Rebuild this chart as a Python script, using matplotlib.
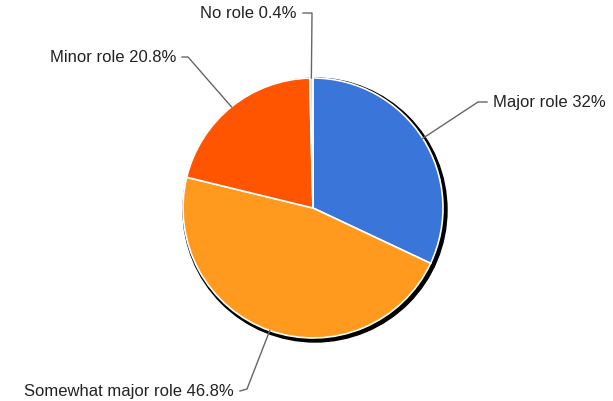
import matplotlib.pyplot as plt
from matplotlib.patches import Circle
import numpy as np

plt.rcParams['font.family'] = ['Liberation Sans', 'DejaVu Sans']

labels = ['Major role', 'Somewhat major role', 'Minor role', 'No role']
values = [32, 46.8, 20.8, 0.4]
value_text = ['32%', '46.8%', '20.8%', '0.4%']
colors = ['#3a76d9', '#ff9a1f', '#ff5500', '#c9daf8']

W, H = 613, 402
fig = plt.figure(figsize=(W / 100, H / 100), dpi=100)
ax = fig.add_axes([0, 0, 1, 1])

cx, cy, r = 313, 209, 130

# shadow ring
ax.add_patch(Circle((cx + 2, cy + 2), r + 2, color='black', zorder=1))

# y axis is inverted below, so counterclock in data = clockwise on screen
wedges, _ = ax.pie(values, colors=colors, startangle=-90, counterclock=True,
                   center=(cx, cy), radius=r, frame=True,
                   wedgeprops=dict(edgecolor='white', linewidth=1.2))
for w in wedges:
    w.set_zorder(2)
ax.set_xlim(0, W)
ax.set_ylim(H, 0)
ax.set_aspect('equal')
ax.axis('off')

# label layout (elbow point, label anchor)
layout = {
    'Major role': ((478, 103), (487, 103), 'left'),
    'Somewhat major role': ((247, 390), (240, 392), 'right'),
    'Minor role': ((188, 58), (182, 58), 'right'),
    'No role': ((312, 14), (303, 14), 'right'),
}

cum = 0
for lab, v, vt in zip(labels, values, value_text):
    mid = cum + v / 2
    cum += v
    ang = np.deg2rad(90 - mid / 100 * 360)
    ex = cx + r * np.cos(ang)
    ey = cy - r * np.sin(ang)
    (bx, by), (tx, ty), ha = layout[lab]
    ax.plot([ex, bx, tx], [ey, by, ty], color='#666666', lw=1, zorder=3)
    off = 6 if ha == 'left' else -6
    ax.text(tx + off, ty, f'{lab} {vt}', ha=ha, va='center',
            fontsize=12, color='#222222')

fig.savefig('out.png', dpi=100)
